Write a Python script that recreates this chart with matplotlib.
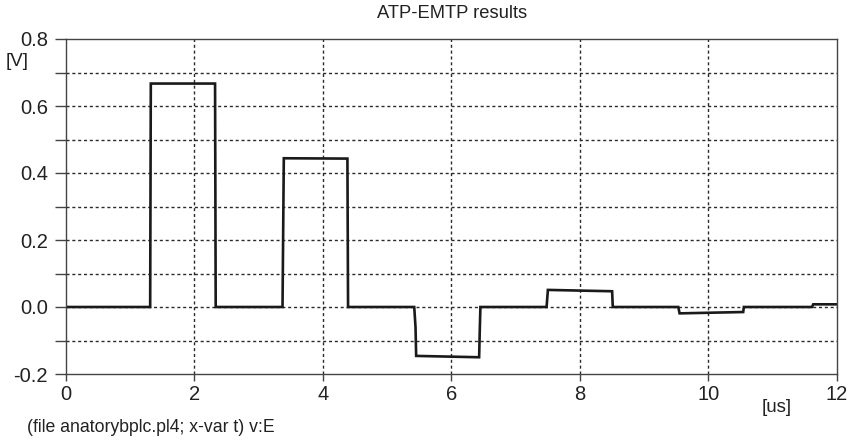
import matplotlib
matplotlib.use("Agg")
import matplotlib.pyplot as plt
from matplotlib.ticker import MultipleLocator

plt.rcParams['font.family'] = ['Liberation Sans', 'DejaVu Sans']

# Waveform points (time in us, voltage in V)
t_us = [0.0, 1.31, 1.32, 2.32, 2.33, 3.37, 3.39, 4.38, 4.39,
        5.42, 5.44, 5.45, 6.43, 6.44, 6.45, 7.48, 7.50, 8.50, 8.51,
        9.53, 9.55, 10.54, 10.55, 11.61, 11.63, 12.0]
v_V = [0.0, 0.0, 0.667, 0.667, 0.0, 0.0, 0.444, 0.443, 0.0,
       0.0, -0.06, -0.146, -0.150, -0.07, 0.0, 0.0, 0.051, 0.047, 0.0,
       0.0, -0.019, -0.015, 0.0, 0.0, 0.008, 0.008]

x_ticks = [0, 2, 4, 6, 8, 10, 12]
y_ticks = [-0.2, 0.0, 0.2, 0.4, 0.6, 0.8]
y_tick_labels = ['-0.2', '0.0', '0.2', '0.4', '0.6', '0.8']

fig = plt.figure(figsize=(8.54, 4.42), dpi=100)
ax = fig.add_axes([66/854, 1-374/442, (837-66)/854, (374-39)/442])

ax.plot(t_us, v_V, color='#1a1a1a', linewidth=1.9, solid_joinstyle='miter')

ax.set_xlim(0, 12)
ax.set_ylim(-0.2, 0.8)
ax.set_xticks(x_ticks)
ax.set_xticklabels([str(v) for v in x_ticks])
ax.set_yticks(y_ticks)
ax.set_yticklabels(y_tick_labels)
ax.yaxis.set_minor_locator(MultipleLocator(0.1))

gridkw = dict(color='#2a2a2a', linestyle=(0, (2.2, 2.0)), linewidth=1.0)
for x in [2, 4, 6, 8, 10]:
    ax.axvline(x, **gridkw, zorder=0)
for i in range(1, 10):
    y = -0.2 + 0.1 * i
    ax.axhline(y, **gridkw, zorder=0)

for s in ax.spines.values():
    s.set_color('#444444')
    s.set_linewidth(1.0)

ax.tick_params(axis='y', which='both', direction='out', length=8, width=1.0,
               color='#444444', labelsize=14.5, pad=5, labelcolor='#222222')
ax.tick_params(axis='x', which='both', direction='out', length=5, width=1.0,
               color='#444444', labelsize=14.5, pad=3, labelcolor='#222222')

fig.text(452/854, 1-14/442, 'ATP-EMTP results', ha='center', va='center',
         fontsize=13.2, color='#222222')
fig.text(17/854, 1-62/442, '[V]', ha='center', va='center', fontsize=13.5, color='#222222')
fig.text(777/854, 1-407/442, '[us]', ha='center', va='center', fontsize=13.5, color='#222222')
fig.text(27/854, 1-428/442, '(file anatorybplc.pl4; x-var t) v:E', ha='left', va='center',
         fontsize=12.7, color='#222222')

fig.savefig('out.png', dpi=100)
